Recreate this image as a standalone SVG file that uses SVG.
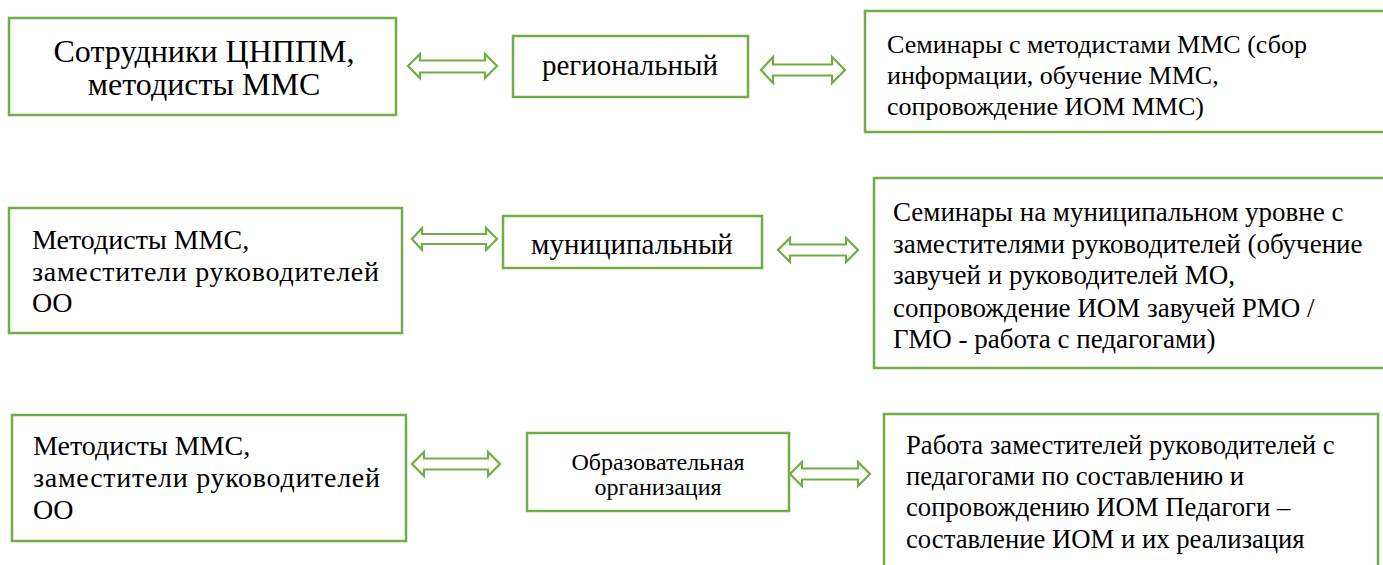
<svg xmlns="http://www.w3.org/2000/svg" width="1383" height="565" viewBox="0 0 1383 565">
<style>
.box{fill:#fff;stroke:#70AD47;stroke-width:2.5}
.arr{fill:#fff;stroke:#70AD47;stroke-width:2.2;stroke-linejoin:miter}
text{font-family:"Liberation Serif","Times New Roman",serif;fill:#000}
.big{font-size:32px}
.t29{font-size:29px}
.t28{font-size:28px}
.t27{font-size:27px}
.t26{font-size:26px}
.t267{font-size:26.7px}
.t24{font-size:24px}
.c{text-anchor:middle}
</style>
<rect width="1383" height="565" fill="#fff"/>
<g id="connectors">
<polygon class="arr" points="408,66 420,54 420,60.5 485,60.5 485,54 497,66 485,78 485,72.5 420,72.5 420,78"/>
<polygon class="arr" points="761,70 773,57 773,64.5 832,64.5 832,57 845,70 832,83 832,75.5 773,75.5 773,83"/>
<polygon class="arr" points="412,239 422,228 422,234 486,234 486,228 497,239 486,250 486,244 422,244 422,250"/>
<polygon class="arr" points="778,250 790,238 790,244.5 846,244.5 846,238 858,250 846,262 846,255.5 790,255.5 790,262"/>
<polygon class="arr" points="412,464 424,452 424,458.5 488,458.5 488,452 500,464 488,476 488,469.5 424,469.5 424,476"/>
<polygon class="arr" points="790,474 802,462 802,468.5 858,468.5 858,462 870,474 858,486 858,479.5 802,479.5 802,486"/>
</g>
<g id="n1">
<rect class="box" x="9" y="18" width="387" height="97"/>
<text class="big c" x="204" y="62">Сотрудники ЦНППМ,</text>
<text class="big c" x="204" y="95">методисты ММС</text>
</g>
<g id="n2">
<rect class="box" x="513" y="36" width="235" height="61"/>
<text class="t29 c" x="630" y="75">региональный</text>
</g>
<g id="n3">
<rect class="box" x="865" y="11" width="530" height="121"/>
<text class="t26" x="887" y="53">Семинары с методистами ММС (сбор</text>
<text class="t26" x="887" y="84">информации, обучение ММС,</text>
<text class="t26" x="887" y="115">сопровождение ИОМ ММС)</text>
</g>
<g id="n4">
<rect class="box" x="9" y="208" width="393" height="125"/>
<text class="t28" x="32" y="249">Методисты ММС,</text>
<text class="t28" x="32" y="281" textLength="347" lengthAdjust="spacing">заместители руководителей</text>
<text class="t28" x="32" y="312">ОО</text>
</g>
<g id="n5">
<rect class="box" x="503" y="216" width="259" height="52"/>
<text class="t29 c" x="632" y="254">муниципальный</text>
</g>
<g id="n6">
<rect class="box" x="874" y="178" width="530" height="190"/>
<text class="t27" x="893" y="221">Семинары на муниципальном уровне с</text>
<text class="t27" x="893" y="253">заместителями руководителей (обучение</text>
<text class="t27" x="893" y="284">завучей и руководителей МО,</text>
<text class="t27" x="893" y="317">сопровождение ИОМ завучей РМО /</text>
<text class="t27" x="893" y="348">ГМО - работа с педагогами)</text>
</g>
<g id="n7">
<rect class="box" x="12" y="415" width="394" height="126"/>
<text class="t28" x="33" y="455">Методисты ММС,</text>
<text class="t28" x="33" y="487" textLength="347" lengthAdjust="spacing">заместители руководителей</text>
<text class="t28" x="33" y="519">ОО</text>
</g>
<g id="n8">
<rect class="box" x="527" y="433" width="262" height="78"/>
<text class="t24 c" x="658" y="470">Образовательная</text>
<text class="t24 c" x="658" y="495">организация</text>
</g>
<g id="n9">
<rect class="box" x="884" y="414" width="494" height="170"/>
<text class="t267" x="906" y="454">Работа заместителей руководителей с</text>
<text class="t267" x="906" y="485">педагогами по составлению и</text>
<text class="t267" x="906" y="516">сопровождению ИОМ Педагоги –</text>
<text class="t267" x="906" y="548">составление ИОМ и их реализация</text>
</g>
</svg>
